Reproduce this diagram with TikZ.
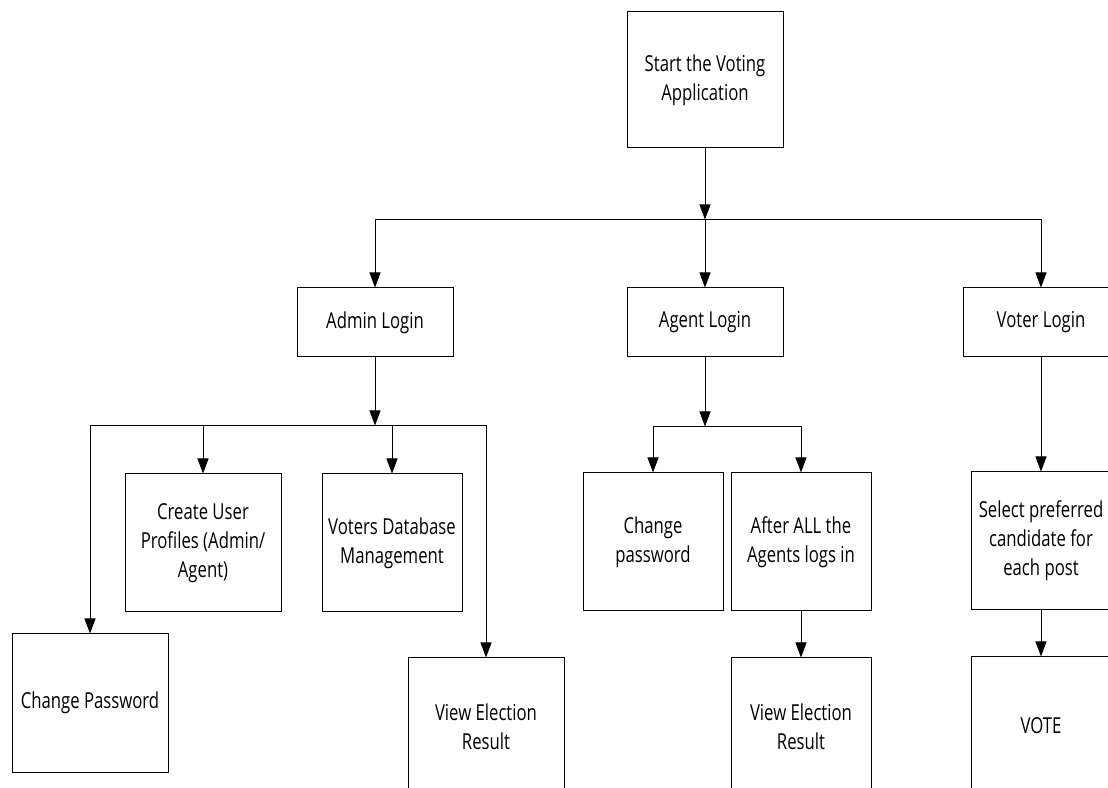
\documentclass[tikz,border=0pt]{standalone}
\usepackage{fontspec}
\setmainfont[FakeStretch=0.76]{Open Sans}
\usetikzlibrary{positioning,arrows.meta}

\begin{document}
\begin{tikzpicture}[x=1pt,y=1pt]
    \tikzset{flowarrow/.style={>={Triangle[length=15pt,width=11pt]}, line width=1pt},
             stepbox/.style={draw, line width=1pt, align=center, inner sep=2pt,
                             minimum width=156pt, minimum height=138pt,
                             font=\fontsize{22}{29}\selectfont},
             loginbox/.style={stepbox, minimum height=69pt},
             narrowbox/.style={stepbox, minimum width=140pt}}

    \clip (0,0) rectangle (1108,787);

    \draw node[stepbox, minimum height=136pt] (start) at (705,707) {Start the Voting\\Application};
    \draw node[loginbox, below=139pt of start] (agent) {Agent Login};
    \draw node[loginbox, left=173pt of agent] (admin) {Admin Login};
    \draw node[loginbox, right=179pt of agent] (voter) {Voter Login};

    \draw node[stepbox, below=116pt of admin, xshift=-172pt] (adcreate) {Create User\\Profiles (Admin/\\Agent)};
    \draw node[narrowbox, right=40pt of adcreate] (addb) {Voters Database\\Management};
    \draw node[stepbox, below=21pt of adcreate, xshift=-113pt] (adpass) {Change Password};
    \draw node[stepbox, below=45pt of addb, xshift=94pt] (adview) {View Election\\Result};

    \draw node[narrowbox, below=115pt of agent, xshift=-52pt] (agpass) {Change\\password};
    \draw node[narrowbox, right=7pt of agpass] (agafter) {After ALL the\\Agents logs in};
    \draw node[narrowbox, below=46pt of agafter] (agview) {View Election\\Result};

    \draw node[narrowbox, below=114pt of voter] (select) {Select preferred\\candidate for\\each post};
    \draw node[narrowbox, below=46pt of select] (vote) {VOTE};

    \coordinate[below=71pt of start] (hub);
    \coordinate[below=68pt of admin] (adhub);
    \coordinate[below=69pt of agent] (aghub);

    \draw[->, flowarrow] (start) -- (hub);
    \draw[->, flowarrow] (hub) -| (admin);
    \draw[->, flowarrow] (hub) -- (agent);
    \draw[->, flowarrow] (hub) -| (voter);

    \draw[->, flowarrow] (admin) -- (adhub);
    \draw[->, flowarrow] (adhub) -| (adpass);
    \draw[->, flowarrow] (adhub) -| (adcreate);
    \draw[->, flowarrow] (adhub) -| (addb);
    \draw[->, flowarrow] (adhub) -| (adview);

    \draw[->, flowarrow] (agent) -- (aghub);
    \draw[->, flowarrow] (aghub) -| (agpass);
    \draw[->, flowarrow] (aghub) -| (agafter);
    \draw[->, flowarrow] (agafter) -- (agview);

    \draw[->, flowarrow] (voter) -- (select);
    \draw[->, flowarrow] (select) -- (vote);
\end{tikzpicture}
\end{document}
